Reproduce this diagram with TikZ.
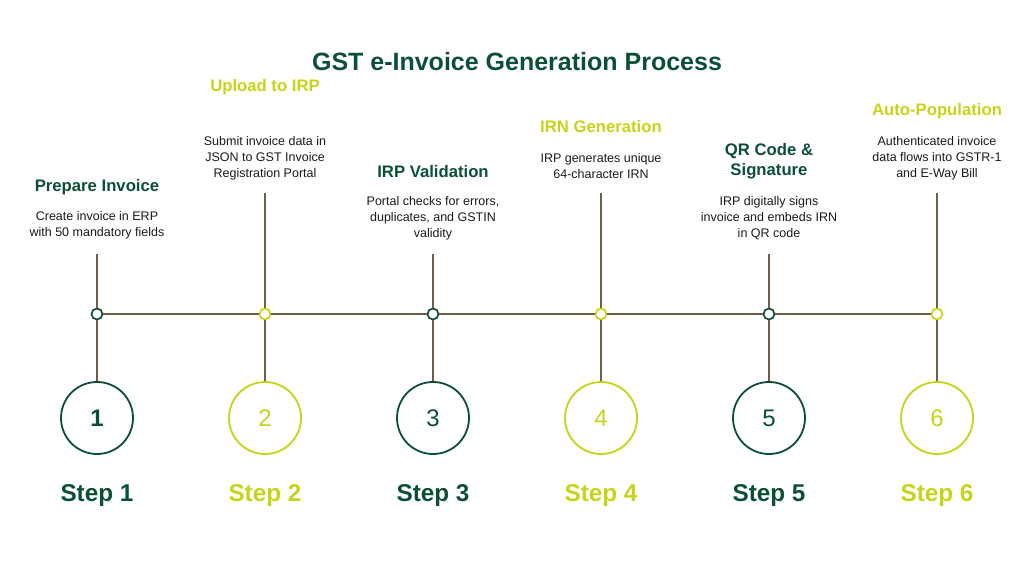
\documentclass[tikz,border=0pt]{standalone}
\usepackage{fontspec}
\setmainfont{Liberation Sans}
\usetikzlibrary{positioning}
\definecolor{gstdark}{HTML}{0B5034}
\definecolor{gstlime}{HTML}{C5D419}
\definecolor{gstline}{HTML}{6E6046}

\begin{document}
\begin{tikzpicture}[x=1pt,y=-1pt,
  dot/.style={circle,draw,line width=1.7pt,fill=white,inner sep=0pt,minimum size=11pt},
  bigc/.style={circle,draw,line width=1.8pt,minimum size=72pt,inner sep=0pt,font=\fontsize{24}{28}\selectfont},
  steplbl/.style={font=\fontsize{24.3}{28}\selectfont\bfseries},
  head/.style={font=\fontsize{16.7}{19.5}\selectfont\bfseries,align=center},
  desc/.style={font=\fontsize{12.5}{16}\selectfont,align=center,text=black!90},
  link/.style={draw=gstline,line width=1.8pt}]
  \useasboundingbox (0,0) rectangle (1034,560);

  \node[font=\fontsize{25}{29}\selectfont\bfseries,text=gstdark] (title) at (517,62) {GST e-Invoice Generation Process};

  % step 1
  \node[dot,draw=gstdark] (d1) at (97,314) {};
  \node[bigc,draw=gstdark,text=gstdark] (c1) at (97,418) {\textbf{1}};
  \node[steplbl,text=gstdark] (s1) at (97,496) {Step 1};
  \node[head,text=gstdark] (h1) at (97,187) {Prepare Invoice};
  \node[desc] (t1) at (97,225) {Create invoice in ERP\\with 50 mandatory fields};
  \coordinate (v1) at (97,254);

  % step 2
  \node[dot,draw=gstlime] (d2) at (265,314) {};
  \node[bigc,draw=gstlime,text=gstlime] (c2) at (265,418) {2};
  \node[steplbl,text=gstlime] (s2) at (265,496) {Step 2};
  \node[head,text=gstlime] (h2) at (265,87) {Upload to IRP};
  \node[desc] (t2) at (265,158) {Submit invoice data in\\JSON to GST Invoice\\Registration Portal};
  \coordinate (v2) at (265,193);

  % step 3
  \node[dot,draw=gstdark] (d3) at (433,314) {};
  \node[bigc,draw=gstdark,text=gstdark] (c3) at (433,418) {3};
  \node[steplbl,text=gstdark] (s3) at (433,496) {Step 3};
  \node[head,text=gstdark] (h3) at (433,172) {IRP Validation};
  \node[desc] (t3) at (433,218) {Portal checks for errors,\\duplicates, and GSTIN\\validity};
  \coordinate (v3) at (433,254);

  % step 4
  \node[dot,draw=gstlime] (d4) at (601,314) {};
  \node[bigc,draw=gstlime,text=gstlime] (c4) at (601,418) {4};
  \node[steplbl,text=gstlime] (s4) at (601,496) {Step 4};
  \node[head,text=gstlime] (h4) at (601,127) {IRN Generation};
  \node[desc] (t4) at (601,166) {IRP generates unique\\64-character IRN};
  \coordinate (v4) at (601,193);

  % step 5
  \node[dot,draw=gstdark] (d5) at (769,314) {};
  \node[bigc,draw=gstdark,text=gstdark] (c5) at (769,418) {5};
  \node[steplbl,text=gstdark] (s5) at (769,496) {Step 5};
  \node[head,text=gstdark] (h5) at (769,161) {QR Code \&\\Signature};
  \node[desc] (t5) at (769,218) {IRP digitally signs\\invoice and embeds IRN\\in QR code};
  \coordinate (v5) at (769,254);

  % step 6
  \node[dot,draw=gstlime] (d6) at (937,314) {};
  \node[bigc,draw=gstlime,text=gstlime] (c6) at (937,418) {6};
  \node[steplbl,text=gstlime] (s6) at (937,496) {Step 6};
  \node[head,text=gstlime] (h6) at (937,111) {Auto-Population};
  \node[desc] (t6) at (937,158) {Authenticated invoice\\data flows into GSTR-1\\and E-Way Bill};
  \coordinate (v6) at (937,193);

  % timeline
  \path[link] (d1) -- (d2) -- (d3) -- (d4) -- (d5) -- (d6);
  \path[link] (v1) -- (d1) (d1) -- (c1)
              (v2) -- (d2) (d2) -- (c2)
              (v3) -- (d3) (d3) -- (c3)
              (v4) -- (d4) (d4) -- (c4)
              (v5) -- (d5) (d5) -- (c5)
              (v6) -- (d6) (d6) -- (c6);
\end{tikzpicture}
\end{document}
